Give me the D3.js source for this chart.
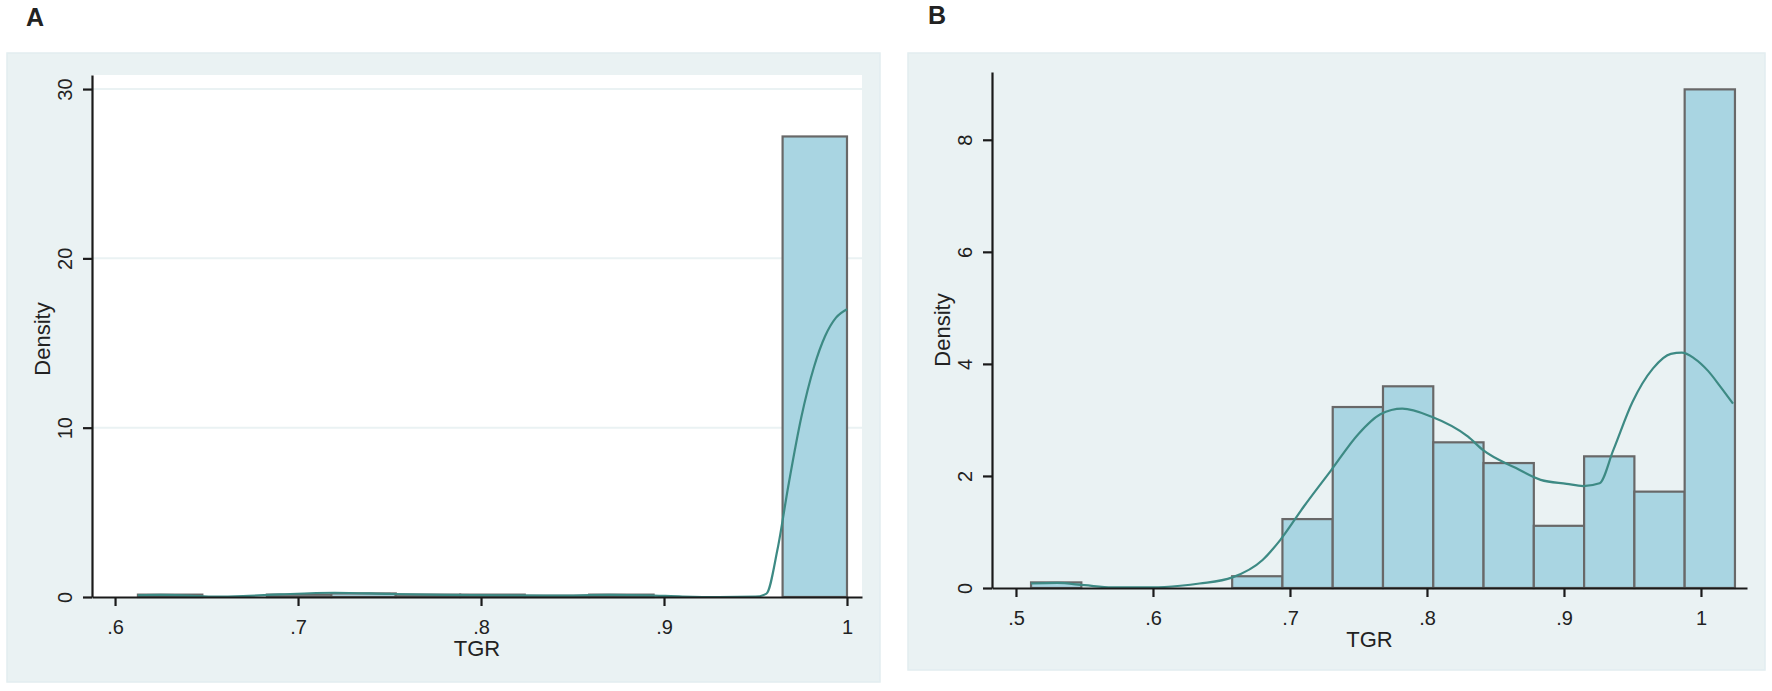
<!DOCTYPE html>
<html>
<head>
<meta charset="utf-8">
<script src="https://cdn.jsdelivr.net/npm/d3@7"></script>
<style>
  body { margin: 0; background: #fff; }
  text { font-family: "Liberation Sans", Arial, sans-serif; fill: #222; }
</style>
</head>
<body>
<svg id="chart" width="1772" height="691"></svg>
<script>
// Panel A: histogram bins (edges) and density per bin
const binEdgesA = [0.6125, 0.6477, 0.6830, 0.7182, 0.7534, 0.7886, 0.8239, 0.8591, 0.8943, 0.9295, 0.9648, 1.0000];
const densA = [0.14, 0, 0.14, 0.21, 0.14, 0.14, 0.07, 0.14, 0, 0, 27.2];

// Panel A: kernel density curve
const kdeAx = [0.6125, 0.625, 0.64, 0.655, 0.67, 0.69, 0.72, 0.75, 0.78, 0.81, 0.84, 0.87, 0.89, 0.91, 0.93, 0.95, 0.956, 0.962, 0.968, 0.975, 0.982, 0.988, 0.994, 1.0];
const kdeAy = [0.1, 0.12, 0.08, 0.02, 0.05, 0.15, 0.25, 0.18, 0.12, 0.1, 0.08, 0.12, 0.1, 0.03, 0.0, 0.02, 0.2, 2.8, 6.6, 10.6, 13.6, 15.4, 16.5, 17.0];

// Panel B: histogram bins (edges) and density per bin
const binEdgesB = [0.5110, 0.5477, 0.5844, 0.6211, 0.6578, 0.6945, 0.7312, 0.7679, 0.8046, 0.8413, 0.8780, 0.9147, 0.9514, 0.9881, 1.0248];
const densB = [0.1, 0, 0, 0, 0.21, 1.23, 3.23, 3.6, 2.6, 2.23, 1.11, 2.35, 1.72, 8.9];

// Panel B: kernel density curve
const kdeBx = [0.511, 0.53, 0.55, 0.57, 0.60, 0.62, 0.634, 0.658, 0.68, 0.693, 0.71, 0.73, 0.75, 0.766, 0.782, 0.803, 0.83, 0.841, 0.865, 0.883, 0.902, 0.914, 0.926, 0.936, 0.95, 0.965, 0.978, 0.986, 0.995, 1.005, 1.014, 1.0234];
const kdeBy = [0.08, 0.09, 0.05, 0.01, 0.01, 0.04, 0.08, 0.19, 0.5, 0.86, 1.45, 2.1, 2.75, 3.1, 3.2, 3.06, 2.7, 2.46, 2.14, 1.93, 1.86, 1.82, 1.87, 2.46, 3.32, 3.92, 4.18, 4.2, 4.1, 3.88, 3.6, 3.29];

// Tick values and labels
const xTicksA = [0.6, 0.7, 0.8, 0.9, 1];
const xLabelsA = [".6", ".7", ".8", ".9", "1"];
const yTicksA = [0, 10, 20, 30];
const xTicksB = [0.5, 0.6, 0.7, 0.8, 0.9, 1];
const xLabelsB = [".5", ".6", ".7", ".8", ".9", "1"];
const yTicksB = [0, 2, 4, 6, 8];

const BG = "#eaf2f3";
const BAR_FILL = "#a9d5e2";
const BAR_STROKE = "#686868";
const CURVE = "#3d8a84";

const svg = d3.select("#chart");

function drawPanel(cfg) {
  const g = svg.append("g");

  // outer panel
  g.append("rect")
    .attr("x", cfg.box[0]).attr("y", cfg.box[1])
    .attr("width", cfg.box[2]).attr("height", cfg.box[3])
    .attr("fill", BG).attr("stroke", "#e2edf0").attr("stroke-width", 1.5);

  const x = d3.scaleLinear().domain(cfg.xDomain).range([cfg.left, cfg.right]);
  const y = d3.scaleLinear().domain(cfg.yDomain).range([cfg.bottom, cfg.top]);

  // plot region
  g.append("rect")
    .attr("x", cfg.left).attr("y", cfg.top)
    .attr("width", cfg.right - cfg.left).attr("height", cfg.bottom - cfg.top)
    .attr("fill", cfg.plotFill);

  // gridlines
  g.append("g").selectAll("line")
    .data(cfg.grid)
    .join("line")
    .attr("x1", cfg.left).attr("x2", cfg.right)
    .attr("y1", d => y(d)).attr("y2", d => y(d))
    .attr("stroke", BG).attr("stroke-width", 2);

  // bars
  const bars = cfg.dens.map((d, i) => ({ x0: cfg.edges[i], x1: cfg.edges[i + 1], d }))
    .filter(b => b.d > 0);
  g.append("g").selectAll("rect")
    .data(bars)
    .join("rect")
    .attr("x", b => x(b.x0))
    .attr("width", b => x(b.x1) - x(b.x0))
    .attr("y", b => y(b.d))
    .attr("height", b => y(0) - y(b.d))
    .attr("fill", BAR_FILL)
    .attr("stroke", BAR_STROKE)
    .attr("stroke-width", 2.2);

  // density curve
  const pts = cfg.kx.map((v, i) => [v, cfg.ky[i]]);
  const line = d3.line()
    .x(d => x(d[0]))
    .y(d => y(d[1]))
    .curve(d3.curveMonotoneX);
  g.append("path")
    .datum(pts)
    .attr("d", line)
    .attr("fill", "none")
    .attr("stroke", CURVE)
    .attr("stroke-width", 2.2);

  // x axis
  const xAxis = g.append("g")
    .attr("transform", `translate(0,${cfg.bottom})`)
    .call(d3.axisBottom(x)
      .tickValues(cfg.xTicks)
      .tickFormat((d, i) => cfg.xLabels[i])
      .tickSize(9)
      .tickSizeOuter(0)
      .tickPadding(10));
  // y axis
  const yAxis = g.append("g")
    .attr("transform", `translate(${cfg.left},0)`)
    .call(d3.axisLeft(y)
      .tickValues(cfg.yTicks)
      .tickSize(9)
      .tickSizeOuter(0));

  [xAxis, yAxis].forEach(a => {
    a.select(".domain").attr("stroke", "#1a1a1a").attr("stroke-width", 2.2);
    a.selectAll(".tick line").attr("stroke", "#1a1a1a").attr("stroke-width", 2.2);
    a.selectAll("text").attr("font-size", 20).attr("fill", "#222")
      .style("font-family", '"Liberation Sans", Arial, sans-serif');
  });
  xAxis.selectAll(".tick text")
    .attr("y", null).attr("dy", null)
    .attr("dominant-baseline", "central")
    .attr("transform", "translate(0,30)");
  yAxis.selectAll(".tick text")
    .attr("x", null).attr("dy", null)
    .attr("text-anchor", "middle")
    .attr("dominant-baseline", "central")
    .attr("transform", "translate(-27,0) rotate(-90)");

  // axis titles
  g.append("text")
    .attr("x", (cfg.left + cfg.right) / 2).attr("y", cfg.bottom + 51)
    .attr("text-anchor", "middle").attr("dominant-baseline", "central")
    .attr("font-size", 22)
    .text("TGR");
  g.append("text")
    .attr("transform", `translate(${cfg.left - 50},${cfg.titleY}) rotate(-90)`)
    .attr("text-anchor", "middle").attr("dominant-baseline", "central")
    .attr("font-size", 22)
    .text("Density");

  // panel letter
  svg.append("text")
    .attr("x", cfg.letterPos[0]).attr("y", cfg.letterPos[1])
    .attr("text-anchor", "middle")
    .attr("font-size", 25).attr("font-weight", "bold").attr("fill", "#000")
    .text(cfg.letter);
}

drawPanel({
  letter: "A", letterPos: [35, 26],
  box: [7, 53, 873, 629],
  left: 92, right: 862, top: 75, bottom: 597,
  xDomain: [0.5874, 1.0082], yDomain: [0, 30.83],
  plotFill: "#ffffff", grid: [10, 20, 30],
  edges: binEdgesA, dens: densA, kx: kdeAx, ky: kdeAy,
  xTicks: xTicksA, xLabels: xLabelsA, yTicks: yTicksA,
  titleY: 339
});

drawPanel({
  letter: "B", letterPos: [937, 24],
  box: [908, 53, 857, 617],
  left: 992, right: 1747, top: 72, bottom: 588,
  xDomain: [0.4825, 1.0336], yDomain: [0, 9.21],
  plotFill: BG, grid: [],
  edges: binEdgesB, dens: densB, kx: kdeBx, ky: kdeBy,
  xTicks: xTicksB, xLabels: xLabelsB, yTicks: yTicksB,
  titleY: 330
});
</script>
</body>
</html>
